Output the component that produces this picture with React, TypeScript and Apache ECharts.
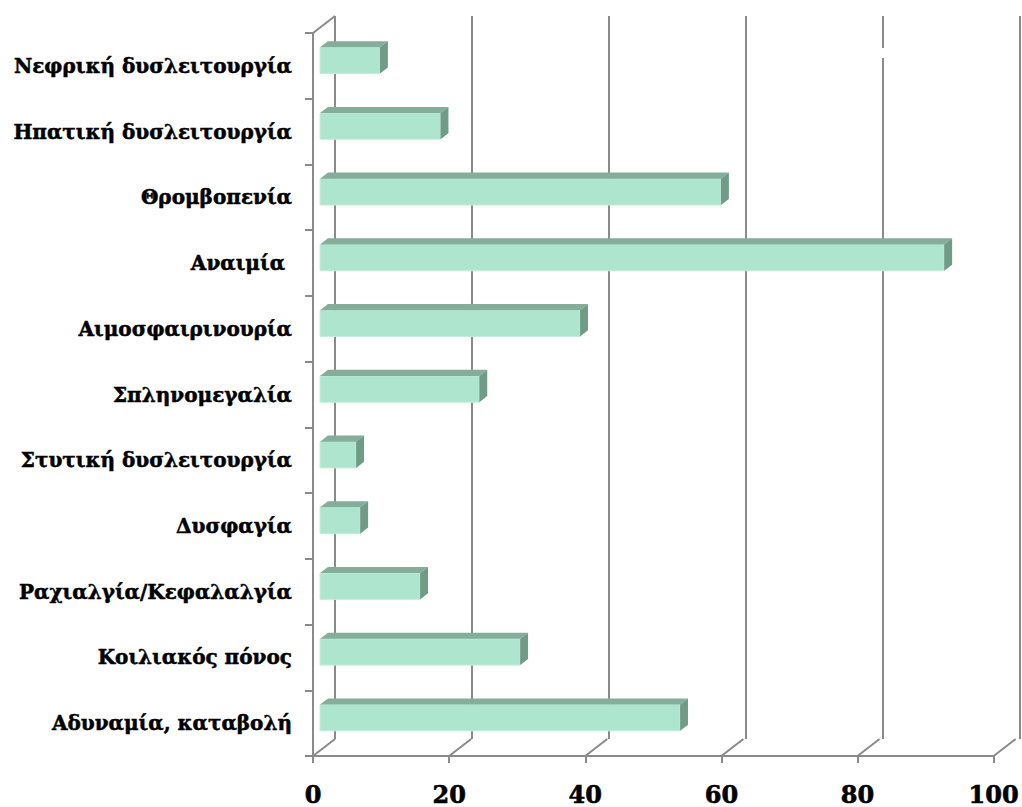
import React, { useEffect, useRef } from "react";
import * as echarts from "echarts";

const categories = [
  "Νεφρική δυσλειτουργία",
  "Ηπατική δυσλειτουργία",
  "Θρομβοπενία",
  "Αναιμία ",
  "Αιμοσφαιρινουρία",
  "Σπληνομεγαλία",
  "Στυτική δυσλειτουργία",
  "Δυσφαγία",
  "Ραχιαλγία/Κεφαλαλγία",
  "Κοιλιακός πόνος",
  "Αδυναμία, καταβολή",
];
const values = [8.8, 17.7, 58.9, 91.7, 38.2, 23.4, 5.3, 5.9, 14.7, 29.4, 52.9];
const xTicks = [0, 20, 40, 60, 80, 100];

const DX = 22;
const DY = -17;
const GRAY = "#8a8a8a";
const FONT = "'DejaVu Serif', serif";

export default function App() {
  const ref = useRef<HTMLDivElement>(null);
  useEffect(() => {
    if (!ref.current) return;
    const chart = echarts.init(ref.current, null, { renderer: "svg" });
    const N = categories.length;
    chart.setOption({
      animation: false,
      backgroundColor: "#ffffff",
      grid: [
        { left: 313, right: 25, top: 33, bottom: 51 },
        { left: 313 + DX, right: 25 - DX - 1, top: 33 + DY, bottom: 51 - DY },
      ],
      xAxis: [
        {
          gridIndex: 0,
          type: "value",
          min: 0,
          max: 100,
          interval: 20,
          axisLine: { show: true, lineStyle: { color: GRAY, width: 2 } },
          axisTick: { show: true, length: 7, lineStyle: { color: GRAY, width: 2 } },
          splitLine: { show: false },
          axisLabel: {
            color: "#000",
            fontFamily: FONT,
            fontWeight: "bold",
            fontSize: 24,
            margin: 26,
            textBorderColor: "#000",
            textBorderWidth: 0.6,
          },
        },
        {
          gridIndex: 1,
          type: "value",
          min: 0,
          max: 100,
          interval: 20,
          axisLine: { show: false },
          axisTick: { show: false },
          axisLabel: { show: false },
          splitLine: { show: true, lineStyle: { color: GRAY, width: 2 } },
        },
      ],
      yAxis: [
        {
          gridIndex: 0,
          type: "category",
          inverse: true,
          data: categories,
          axisLine: { show: true, lineStyle: { color: GRAY, width: 2 } },
          axisTick: { show: true, length: 8, lineStyle: { color: GRAY, width: 2 } },
          axisLabel: {
            color: "#000",
            fontFamily: FONT,
            fontWeight: "bold",
            fontSize: 20,
            margin: 21,
            padding: [8, 0, 0, 0],
            textBorderColor: "#000",
            textBorderWidth: 0.5,
          },
        },
        {
          gridIndex: 1,
          type: "category",
          inverse: true,
          data: categories,
          show: false,
        },
      ],
      series: [
        {
          type: "custom",
          xAxisIndex: 0,
          yAxisIndex: 0,
          z: 1,
          silent: true,
          data: xTicks.map((v) => [v]),
          renderItem: (params: any, api: any) => {
            const v = api.value(0);
            const bandH = api.size([0, 1])[1];
            const [x, yLast] = api.coord([v, N - 1]);
            const yBottom = yLast + bandH / 2;
            const children: any[] = [
              {
                type: "line",
                shape: { x1: x, y1: yBottom, x2: x + DX, y2: yBottom + DY },
                style: { stroke: GRAY, lineWidth: 2 },
              },
            ];
            if (v === 0) {
              const [, yFirst] = api.coord([v, 0]);
              const yTop = yFirst - bandH / 2;
              children.push({
                type: "line",
                shape: { x1: x, y1: yTop, x2: x + DX, y2: yTop + DY },
                style: { stroke: GRAY, lineWidth: 2 },
              });
            }
            return { type: "group", children };
          },
        },
        {
          type: "custom",
          xAxisIndex: 0,
          yAxisIndex: 0,
          z: 3,
          silent: true,
          data: values.map((v, i) => [v, i]),
          renderItem: (params: any, api: any) => {
            const v = api.value(0);
            const i = api.value(1);
            const bandH = api.size([0, 1])[1];
            const [xs, yc] = api.coord([0, i]);
            const [xe] = api.coord([v, i]);
            const t0 = 0.32;
            const t1 = 0.68;
            const ox = DX * t0;
            const oy = DY * t0;
            const dx = DX * (t1 - t0);
            const dy = DY * (t1 - t0);
            const h = bandH * 0.4;
            const yTop = yc + oy - h / 2;
            const yBot = yTop + h;
            const x0 = xs + ox;
            const x1 = xe + ox;
            return {
              type: "group",
              children: [
                {
                  type: "rect",
                  shape: { x: x0, y: yTop, width: x1 - x0, height: h },
                  style: { fill: "#ade5ce", stroke: "#c4eedc", lineWidth: 1 },
                },
                {
                  type: "polygon",
                  shape: {
                    points: [
                      [x0, yTop],
                      [x1, yTop],
                      [x1 + dx, yTop + dy],
                      [x0 + dx, yTop + dy],
                    ],
                  },
                  style: { fill: "#84ad9a" },
                },
                {
                  type: "polygon",
                  shape: {
                    points: [
                      [x1, yTop],
                      [x1 + dx, yTop + dy],
                      [x1 + dx, yBot + dy],
                      [x1, yBot],
                    ],
                  },
                  style: { fill: "#6f9b87" },
                },
              ],
            };
          },
        },
      ],
      graphic: [
        {
          type: "rect",
          shape: { x: 879, y: 48, width: 8, height: 10 },
          style: { fill: "#ffffff" },
          z: 10,
        },
      ],
    });
    return () => chart.dispose();
  }, []);
  return (
    <div
      ref={ref}
      style={{ position: "fixed", left: 0, top: 0, width: 1022, height: 807 }}
    />
  );
}
